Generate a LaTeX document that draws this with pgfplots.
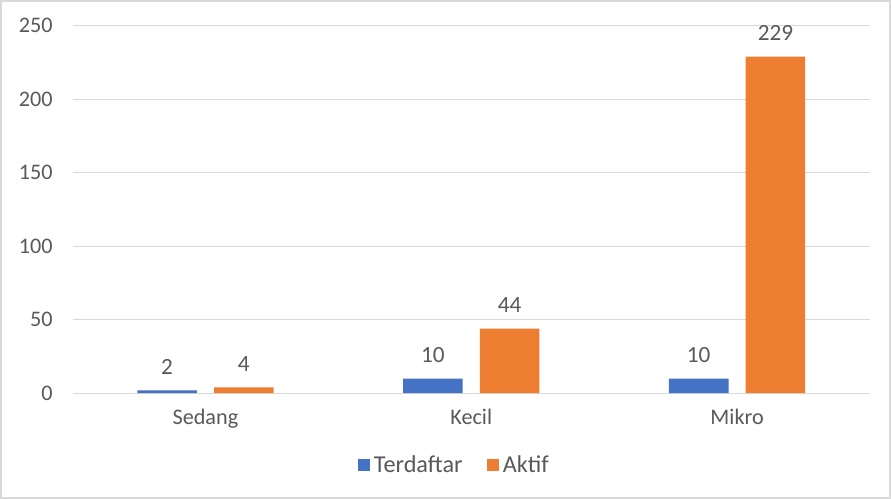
\documentclass[border=0pt]{standalone}
\usepackage{pgfplots}
\pgfplotsset{compat=1.18}
\usepackage{fontspec}
\setmainfont{Carlito}
\definecolor{cblue}{HTML}{4472C4}
\definecolor{corange}{HTML}{ED7D31}
\definecolor{ctext}{HTML}{595959}
\definecolor{cgrid}{HTML}{D9D9D9}
\begin{document}
\fontsize{11}{13}\selectfont
\begin{tikzpicture}
\begin{axis}[
  scale only axis,
  width=395pt, height=182pt,
  xmin=-0.5, xmax=2.5,
  ymin=0, ymax=250,
  ytick={0,50,100,150,200,250},
  xtick={0,1,2},
  xticklabels={Sedang,Kecil,Mikro},
  ybar=8.5pt, bar width=29.5pt,
  axis line style={draw=none},
  major tick length=0pt,
  ymajorgrids,
  grid style={cgrid, line width=0.6pt},
  tick label style={text=ctext, font=\fontsize{11}{13}\selectfont},
  /pgf/number format/assume math mode=true,
  yticklabel style={xshift=-6pt},
  xticklabel style={yshift=-4pt},
  nodes near coords,
  nodes near coords style={text=ctext, font=\fontsize{11.5}{13}\selectfont, yshift=4pt},
  clip=false,
  legend style={draw=none, at={(rel axis cs:0.48,-0.197)}, anchor=center,
    legend columns=2, font=\fontsize{12}{14}\selectfont, text=ctext,
    /tikz/every even column/.append style={column sep=10pt}},
  legend image code/.code={\fill[#1] (0cm,-0.1cm) rectangle (0.21cm,0.11cm);},
]
\addplot[fill=cblue, draw=none] coordinates {(0,2) (1,10) (2,10)};
\addplot[fill=corange, draw=none] coordinates {(0,4) (1,44) (2,229)};
\legend{Terdaftar, Aktif}
\draw[cgrid, line width=0.8pt] (rel axis cs:-0.0899,-0.2845) rectangle (rel axis cs:1.0253,1.068);
\end{axis}
\end{tikzpicture}
\end{document}
